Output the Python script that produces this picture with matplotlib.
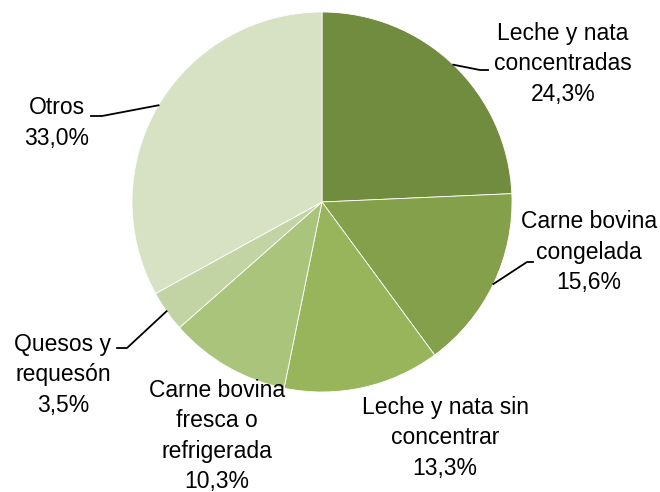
import numpy as np
from matplotlib import pyplot as plt

# Data
labels = ['Leche y nata\nconcentradas', 'Carne bovina\ncongelada',
          'Leche y nata sin\nconcentrar', 'Carne bovina\nfresca o\nrefrigerada',
          'Quesos y\nrequesón', 'Otros']
values = [24.3, 15.6, 13.3, 10.3, 3.5, 33.0]
colors = ['#718b3f', '#84a04b', '#98b55c', '#abc47c', '#c3d4a4', '#d7e2c5']

# label centres (pixels) and elbow points of the leader lines
label_pos = [(563, 64), (589, 252), (445, 438), (217, 436), (63, 375), (57, 123)]
elbows = [(480, 70), (527, 262), None, None, (127, 348), (102, 116)]
elbow_ends = [(488, 70), (533, 262), None, None, (117, 348), (91, 116)]

W, H = 660, 492
cx, cy, r = 322, 202, 190

plt.rcParams['font.family'] = ['Liberation Sans', 'DejaVu Sans']
fig = plt.figure(figsize=(W / 100, H / 100), dpi=100)
ax = fig.add_axes([0, 0, 1, 1])

wedges, _ = ax.pie(values, colors=colors, startangle=90, counterclock=False,
                   center=(cx, H - cy), radius=r, frame=True,
                   wedgeprops=dict(edgecolor='white', linewidth=0.6))
ax.set_xlim(0, W)
ax.set_ylim(0, H)
ax.set_aspect('equal')
ax.axis('off')

for i, w in enumerate(wedges):
    lx, ly = label_pos[i]
    ax.text(lx, H - ly, labels[i] + '\n' + f'{values[i]:.1f}%'.replace('.', ','),
            ha='center', va='center', fontsize=16.5, linespacing=1.42)
    if elbows[i] is not None:
        ang = np.deg2rad((w.theta1 + w.theta2) / 2)
        sx = cx + r * np.cos(ang)
        sy = H - cy + r * np.sin(ang)
        ex, ey = elbows[i]
        fx, fy = elbow_ends[i]
        ax.plot([sx, ex, fx], [sy, H - ey, H - fy], color='black', lw=1.3)

plt.savefig('out.png', dpi=100)
